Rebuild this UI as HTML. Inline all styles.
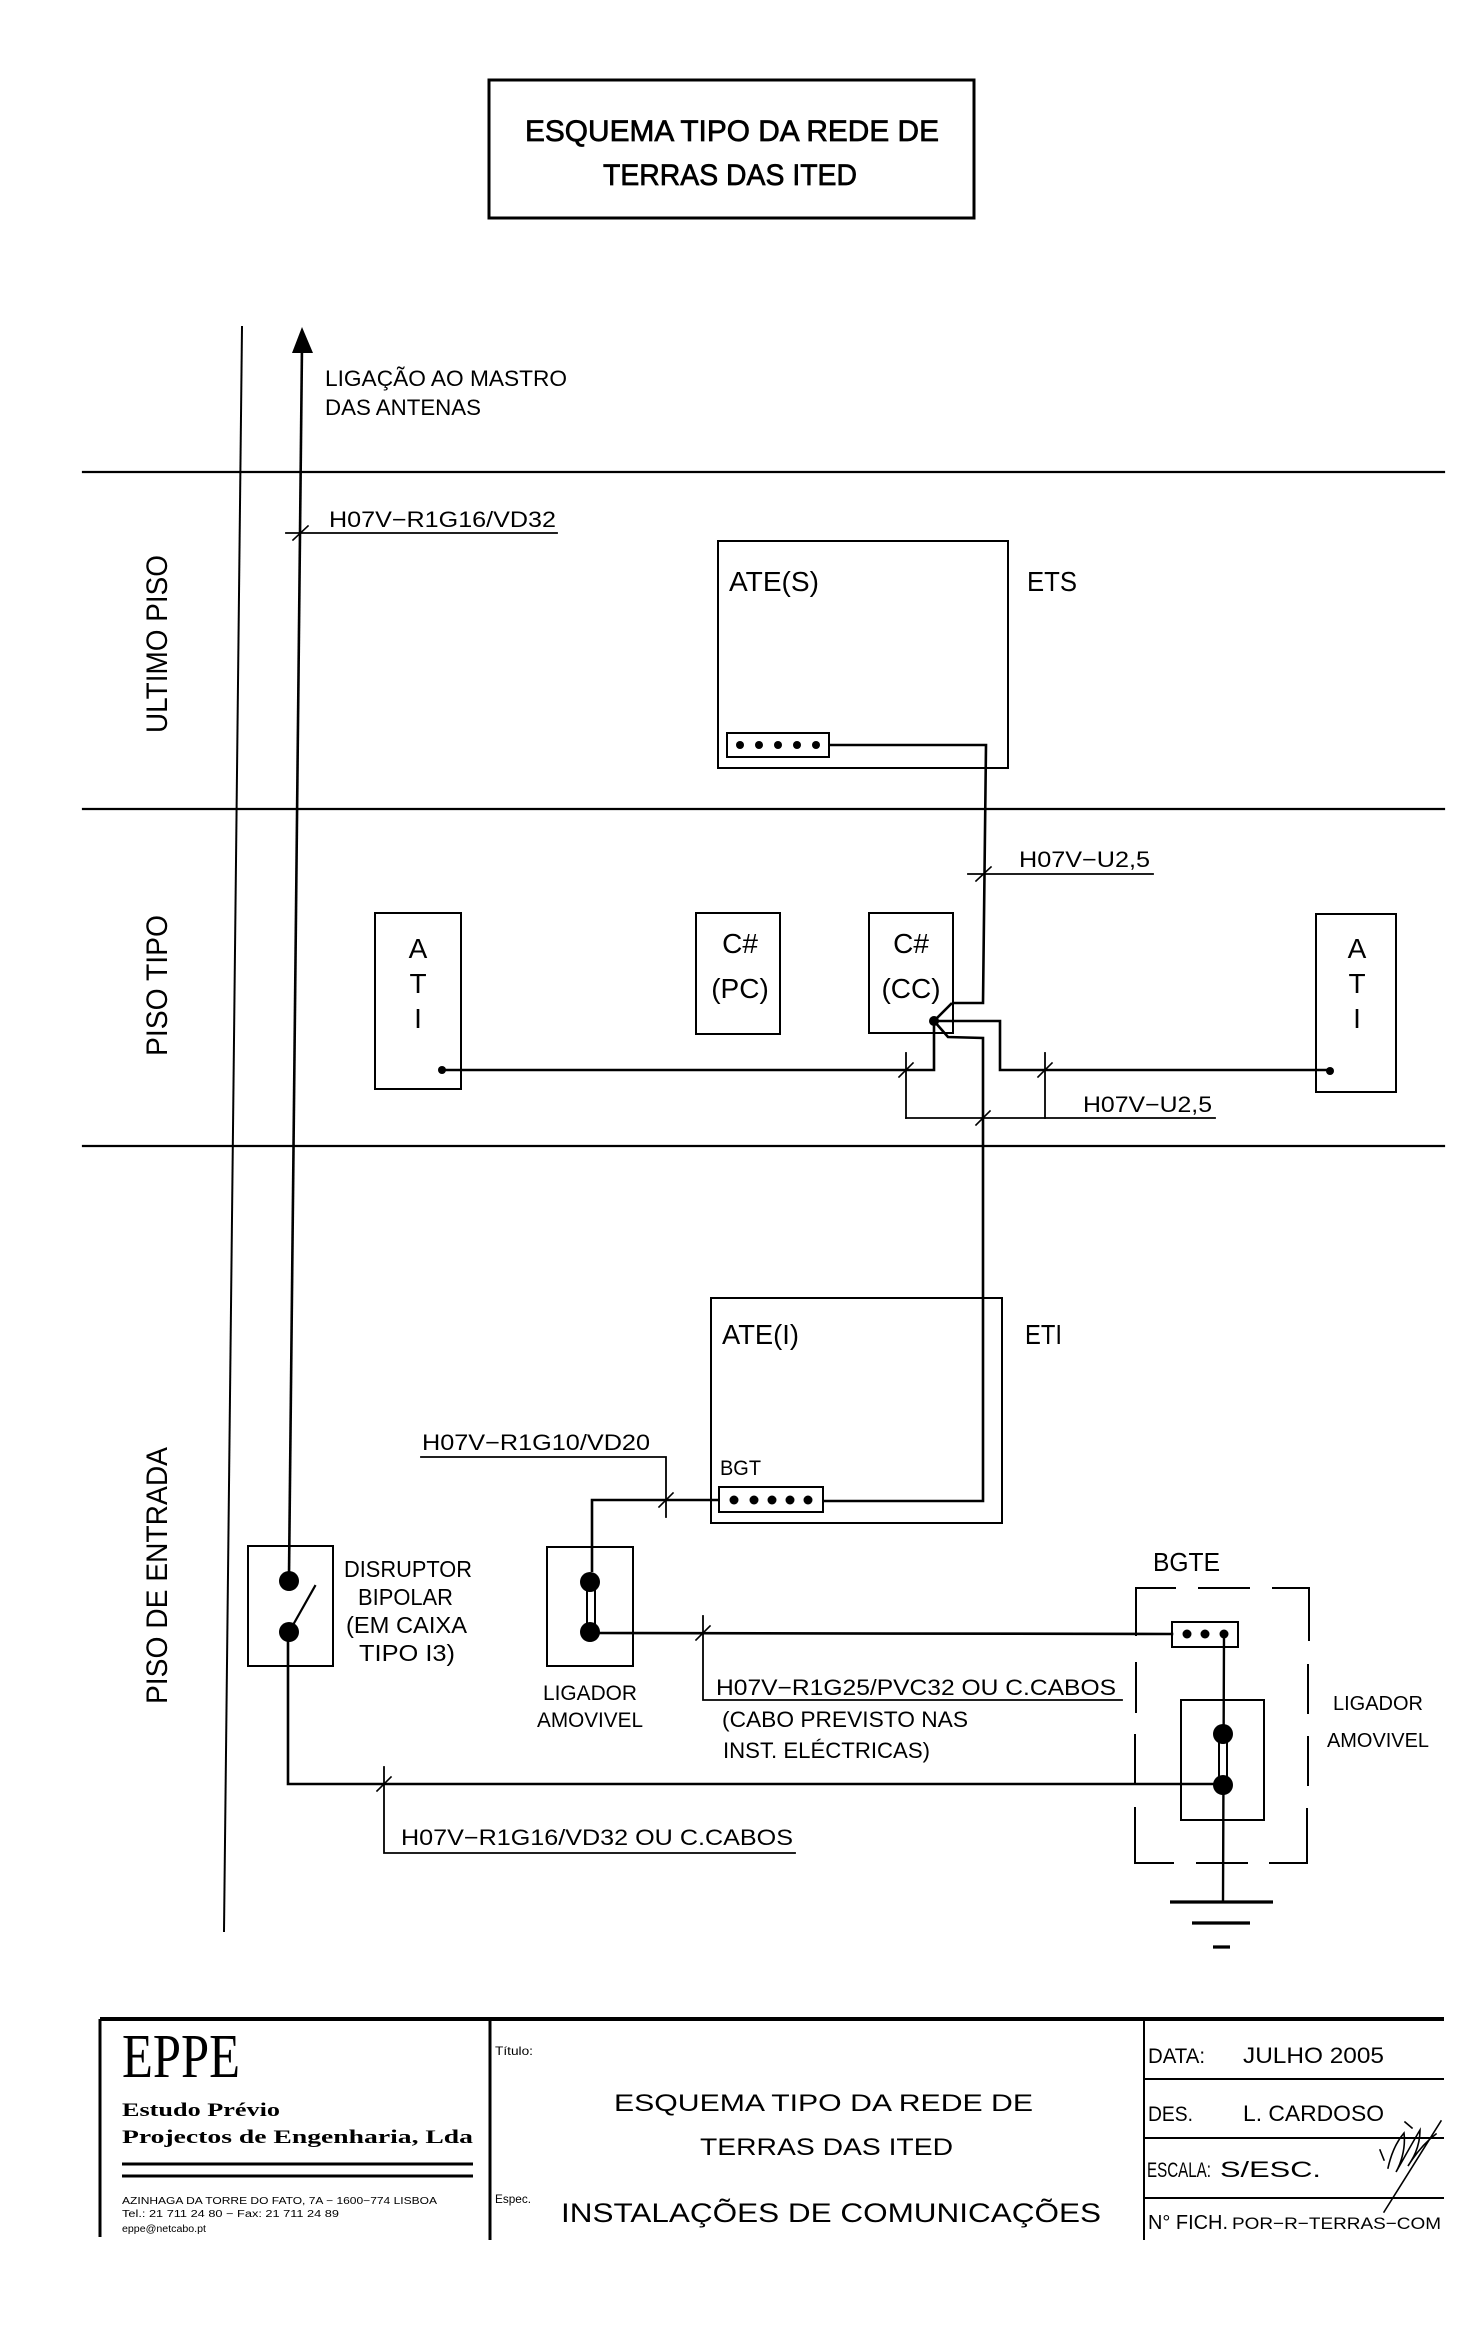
<!DOCTYPE html>
<html><head><meta charset="utf-8"><style>
html,body{margin:0;padding:0;background:#fff;}
svg{display:block;}
text{font-family:"Liberation Sans",Arial,sans-serif;fill:#000;}
.s{font-family:"Liberation Serif","Times New Roman",serif;}
</style></head><body>
<svg width="1482" height="2326" viewBox="0 0 1482 2326" xmlns="http://www.w3.org/2000/svg">
<rect x="0" y="0" width="1482" height="2326" fill="#fff"/>

<!-- Title box -->
<rect x="489" y="80" width="485" height="138" fill="none" stroke="#000" stroke-width="3"/>
<text x="525" y="141" font-size="30" textLength="414" lengthAdjust="spacingAndGlyphs" stroke="#000" stroke-width="0.7">ESQUEMA TIPO DA REDE DE</text>
<text x="603" y="185" font-size="30" textLength="254" lengthAdjust="spacingAndGlyphs" stroke="#000" stroke-width="0.7">TERRAS DAS ITED</text>

<g stroke="#000" fill="none" stroke-linecap="square">
<!-- left vertical reference line -->
<line x1="242" y1="327" x2="224" y2="1931" stroke-width="2"/>
<!-- floor lines -->
<line x1="83" y1="472" x2="1444" y2="472" stroke-width="2.2"/>
<line x1="83" y1="809" x2="1444" y2="809" stroke-width="2.2"/>
<line x1="83" y1="1146" x2="1444" y2="1146" stroke-width="2.2"/>

<!-- main conductor -->
<line x1="302" y1="345" x2="289" y2="1575" stroke-width="2.6"/>
<!-- top label underline/tick -->
<line x1="286" y1="533" x2="557" y2="533" stroke-width="1.8"/>
<line x1="293" y1="540" x2="308" y2="526" stroke-width="1.6"/>

<!-- ATE(S) box -->
<rect x="718" y="541" width="290" height="227" stroke-width="2"/>
<rect x="727" y="733" width="102" height="24" stroke-width="2"/>
<polyline points="829,745 986,745 983,1003 952,1003" stroke-width="2.6" stroke-linecap="butt"/>
<!-- top H07V-U2,5 -->
<line x1="968" y1="874" x2="1153" y2="874" stroke-width="1.8"/>
<line x1="976" y1="881" x2="991" y2="867" stroke-width="1.6"/>

<!-- ATI left -->
<rect x="375" y="913" width="86" height="176" stroke-width="2"/>
<!-- C# PC -->
<rect x="696" y="913" width="84" height="121" stroke-width="2"/>
<!-- C# CC -->
<rect x="869" y="913" width="84" height="120" stroke-width="2"/>
<!-- ATI right -->
<rect x="1316" y="914" width="80" height="178" stroke-width="2"/>

<!-- junction -->
<polyline points="952,1003 934,1021 948,1037 983,1038 983,1501 823,1501" stroke-width="2.6" stroke-linejoin="miter" stroke-linecap="butt"/>
<polyline points="934,1021 1000,1021 1000,1070 1330,1070" stroke-width="2.6" stroke-linecap="butt"/>
<polyline points="934,1021 934,1070 442,1070" stroke-width="2.6" stroke-linecap="butt"/>
<!-- ticks & label lines piso tipo -->
<line x1="906" y1="1053" x2="906" y2="1118" stroke-width="1.8"/>
<line x1="906" y1="1118" x2="1215" y2="1118" stroke-width="1.8"/>
<line x1="1045" y1="1053" x2="1045" y2="1118" stroke-width="1.8"/>
<line x1="899" y1="1077" x2="913" y2="1063" stroke-width="1.6"/>
<line x1="1038" y1="1077" x2="1052" y2="1063" stroke-width="1.6"/>
<line x1="976" y1="1125" x2="990" y2="1111" stroke-width="1.6"/>

<!-- ATE(I) box -->
<rect x="711" y="1298" width="291" height="225" stroke-width="2"/>
<rect x="719" y="1487" width="104" height="25" stroke-width="2"/>
<!-- BGT to ligador -->
<polyline points="719,1500 592,1500 592,1572" stroke-width="2.6" stroke-linecap="butt"/>
<polyline points="421,1457 666,1457 666,1517" stroke-width="1.8"/>
<line x1="659" y1="1507" x2="673" y2="1493" stroke-width="1.6"/>

<!-- disruptor -->
<rect x="248" y="1546" width="85" height="120" stroke-width="2"/>
<line x1="293" y1="1625" x2="315" y2="1586" stroke-width="2.2"/>
<polyline points="288,1640 288,1784 1223,1784" stroke-width="2.6" stroke-linecap="butt"/>
<polyline points="384,1767 384,1853 795,1853" stroke-width="1.8"/>
<line x1="377" y1="1791" x2="391" y2="1777" stroke-width="1.6"/>

<!-- ligador amovivel -->
<rect x="547" y="1547" width="86" height="119" stroke-width="2"/>
<rect x="587" y="1588" width="8" height="38" stroke-width="2" fill="#fff"/>
<line x1="590" y1="1633" x2="1172" y2="1634" stroke-width="2.6"/>
<polyline points="703,1616 703,1700 1122,1700" stroke-width="1.8"/>
<line x1="696" y1="1640" x2="710" y2="1626" stroke-width="1.6"/>

<!-- BGTE -->
<rect x="1172" y="1622" width="66" height="25" stroke-width="2"/>
<line x1="1224" y1="1634" x2="1223" y2="1902" stroke-width="2.4"/>
<rect x="1181" y="1700" width="83" height="120" stroke-width="2"/>
<rect x="1219" y="1740" width="8" height="38" stroke-width="2" fill="#fff"/>
<!-- dashed enclosure -->
<g stroke-width="2">
<line x1="1136" y1="1588" x2="1175" y2="1588"/><line x1="1199" y1="1588" x2="1249" y2="1588"/><line x1="1273" y1="1588" x2="1309" y2="1588"/>
<line x1="1135" y1="1863" x2="1173" y2="1863"/><line x1="1197" y1="1863" x2="1247" y2="1863"/><line x1="1270" y1="1863" x2="1307" y2="1863"/>
<line x1="1136" y1="1588" x2="1136" y2="1635"/><line x1="1136" y1="1663" x2="1136" y2="1712"/><line x1="1135" y1="1735" x2="1135" y2="1783"/><line x1="1135" y1="1808" x2="1135" y2="1863"/>
<line x1="1309" y1="1588" x2="1309" y2="1640"/><line x1="1308" y1="1665" x2="1308" y2="1713"/><line x1="1308" y1="1737" x2="1308" y2="1785"/><line x1="1307" y1="1809" x2="1307" y2="1863"/>
</g>
<!-- ground -->
<line x1="1170" y1="1902" x2="1273" y2="1902" stroke-width="3.2" stroke-linecap="butt"/>
<line x1="1192" y1="1923" x2="1250" y2="1923" stroke-width="3.2" stroke-linecap="butt"/>
<line x1="1213" y1="1947" x2="1230" y2="1947" stroke-width="3.2" stroke-linecap="butt"/>

<!-- title block lines -->
<line x1="100" y1="2019" x2="1444" y2="2019" stroke-width="4" stroke-linecap="butt"/>
<line x1="100" y1="2019" x2="100" y2="2237" stroke-width="3" stroke-linecap="butt"/>
<line x1="490" y1="2019" x2="490" y2="2240" stroke-width="3" stroke-linecap="butt"/>
<line x1="1144" y1="2019" x2="1144" y2="2240" stroke-width="2" stroke-linecap="butt"/>
<line x1="1144" y1="2079" x2="1444" y2="2079" stroke-width="2" stroke-linecap="butt"/>
<line x1="1144" y1="2138" x2="1444" y2="2138" stroke-width="2" stroke-linecap="butt"/>
<line x1="1144" y1="2198" x2="1444" y2="2198" stroke-width="2" stroke-linecap="butt"/>
<line x1="122" y1="2164" x2="473" y2="2164" stroke-width="3" stroke-linecap="butt"/>
<line x1="122" y1="2176" x2="473" y2="2176" stroke-width="3" stroke-linecap="butt"/>
<!-- signature -->
<path d="M1441,2121 L1384,2212 M1388,2168 C1392,2150 1398,2140 1404,2133 C1406,2150 1400,2165 1396,2172 C1404,2158 1414,2140 1420,2130 C1420,2148 1412,2160 1408,2166 C1418,2150 1428,2140 1436,2134 M1380,2150 L1384,2160 M1405,2122 L1412,2128" stroke-width="1.6"/>
</g>

<!-- arrow head -->
<polygon points="302,327 292,353 313,353" fill="#000"/>

<!-- dots -->
<g fill="#000">
<circle cx="740" cy="745" r="4"/><circle cx="759" cy="745" r="4"/><circle cx="778" cy="745" r="4"/><circle cx="797" cy="745" r="4"/><circle cx="816" cy="745" r="4"/>
<circle cx="442" cy="1070" r="4"/>
<circle cx="1330" cy="1071" r="4"/>
<circle cx="934" cy="1021" r="5"/>
<circle cx="734" cy="1500" r="4.5"/><circle cx="754" cy="1500" r="4.5"/><circle cx="772" cy="1500" r="4.5"/><circle cx="790" cy="1500" r="4.5"/><circle cx="808" cy="1500" r="4.5"/>
<circle cx="289" cy="1581" r="10"/><circle cx="289" cy="1632" r="10"/>
<circle cx="590" cy="1582" r="10"/><circle cx="590" cy="1632" r="10"/>
<circle cx="1187" cy="1634" r="4.5"/><circle cx="1205" cy="1634" r="4.5"/><circle cx="1224" cy="1634" r="4.5"/>
<circle cx="1223" cy="1734" r="10"/><circle cx="1223" cy="1785" r="10"/>
</g>

<!-- diagram labels -->
<text x="325" y="386" font-size="22" textLength="242" lengthAdjust="spacingAndGlyphs">LIGAÇÃO  AO  MASTRO</text>
<text x="325" y="415" font-size="22" textLength="156" lengthAdjust="spacingAndGlyphs">DAS  ANTENAS</text>
<text x="329" y="527" font-size="22" textLength="227" lengthAdjust="spacingAndGlyphs">H07V−R1G16/VD32</text>
<text x="729" y="591" font-size="28" textLength="90" lengthAdjust="spacingAndGlyphs">ATE(S)</text>
<text x="1027" y="591" font-size="28" textLength="50" lengthAdjust="spacingAndGlyphs">ETS</text>

<text transform="translate(167,733) rotate(-90)" font-size="30" textLength="178" lengthAdjust="spacingAndGlyphs">ULTIMO  PISO</text>
<text transform="translate(167,1056) rotate(-90)" font-size="30" textLength="141" lengthAdjust="spacingAndGlyphs">PISO  TIPO</text>
<text transform="translate(167,1704) rotate(-90)" font-size="30" textLength="257" lengthAdjust="spacingAndGlyphs">PISO  DE  ENTRADA</text>

<text x="1019" y="867" font-size="22" textLength="131" lengthAdjust="spacingAndGlyphs">H07V−U2,5</text>
<text x="1083" y="1112" font-size="22" textLength="129" lengthAdjust="spacingAndGlyphs">H07V−U2,5</text>

<g font-size="28" text-anchor="middle">
<text x="418" y="958">A</text><text x="418" y="993">T</text><text x="418" y="1028">I</text>
<text x="1357" y="958">A</text><text x="1357" y="993">T</text><text x="1357" y="1028">I</text>
<text x="740" y="953">C#</text><text x="740" y="998">(PC)</text>
<text x="911" y="953">C#</text><text x="911" y="998">(CC)</text>
</g>

<text x="722" y="1344" font-size="28" textLength="77" lengthAdjust="spacingAndGlyphs">ATE(I)</text>
<text x="1025" y="1344" font-size="28" textLength="37" lengthAdjust="spacingAndGlyphs">ETI</text>
<text x="720" y="1475" font-size="21" textLength="41" lengthAdjust="spacingAndGlyphs">BGT</text>
<text x="422" y="1450" font-size="22" textLength="228" lengthAdjust="spacingAndGlyphs">H07V−R1G10/VD20</text>
<text x="1153" y="1571" font-size="26" textLength="67" lengthAdjust="spacingAndGlyphs">BGTE</text>

<text x="344" y="1577" font-size="23" textLength="128" lengthAdjust="spacingAndGlyphs">DISRUPTOR</text>
<text x="358" y="1605" font-size="23" textLength="95" lengthAdjust="spacingAndGlyphs">BIPOLAR</text>
<text x="346" y="1633" font-size="23" textLength="121" lengthAdjust="spacingAndGlyphs">(EM  CAIXA</text>
<text x="359" y="1661" font-size="23" textLength="96" lengthAdjust="spacingAndGlyphs">TIPO  I3)</text>

<text x="543" y="1700" font-size="21" textLength="94" lengthAdjust="spacingAndGlyphs">LIGADOR</text>
<text x="537" y="1727" font-size="21" textLength="106" lengthAdjust="spacingAndGlyphs">AMOVIVEL</text>
<text x="1333" y="1710" font-size="20" textLength="90" lengthAdjust="spacingAndGlyphs">LIGADOR</text>
<text x="1327" y="1747" font-size="20" textLength="102" lengthAdjust="spacingAndGlyphs">AMOVIVEL</text>

<text x="716" y="1695" font-size="22" textLength="400" lengthAdjust="spacingAndGlyphs">H07V−R1G25/PVC32  OU  C.CABOS</text>
<text x="722" y="1727" font-size="22" textLength="246" lengthAdjust="spacingAndGlyphs">(CABO  PREVISTO  NAS</text>
<text x="723" y="1758" font-size="22" textLength="207" lengthAdjust="spacingAndGlyphs">INST.  ELÉCTRICAS)</text>
<text x="401" y="1845" font-size="22" textLength="392" lengthAdjust="spacingAndGlyphs">H07V−R1G16/VD32  OU  C.CABOS</text>

<!-- title block text -->
<text class="s" x="122" y="2077" font-size="62" textLength="118" lengthAdjust="spacingAndGlyphs">EPPE</text>
<text class="s" x="122" y="2116" font-size="19" font-weight="bold" textLength="158" lengthAdjust="spacingAndGlyphs">Estudo  Prévio</text>
<text class="s" x="122" y="2143" font-size="19" font-weight="bold" textLength="351" lengthAdjust="spacingAndGlyphs">Projectos  de  Engenharia,  Lda</text>
<text x="122" y="2204" font-size="10" textLength="315" lengthAdjust="spacingAndGlyphs">AZINHAGA DA TORRE DO FATO, 7A − 1600−774 LISBOA</text>
<text x="122" y="2217" font-size="10" textLength="217" lengthAdjust="spacingAndGlyphs">Tel.: 21 711 24 80 − Fax: 21 711 24 89</text>
<text x="122" y="2232" font-size="10" textLength="84" lengthAdjust="spacingAndGlyphs">eppe@netcabo.pt</text>

<text x="495" y="2055" font-size="12" textLength="38" lengthAdjust="spacingAndGlyphs">Título:</text>
<text x="495" y="2203" font-size="12" textLength="36" lengthAdjust="spacingAndGlyphs">Espec.</text>
<text x="614" y="2111" font-size="24" textLength="419" lengthAdjust="spacingAndGlyphs">ESQUEMA  TIPO  DA  REDE  DE</text>
<text x="700" y="2155" font-size="24" textLength="253" lengthAdjust="spacingAndGlyphs">TERRAS  DAS  ITED</text>
<text x="561" y="2222" font-size="27" textLength="540" lengthAdjust="spacingAndGlyphs">INSTALAÇÕES  DE  COMUNICAÇÕES</text>

<text x="1148" y="2063" font-size="21" textLength="57" lengthAdjust="spacingAndGlyphs">DATA:</text>
<text x="1243" y="2063" font-size="22" textLength="141" lengthAdjust="spacingAndGlyphs">JULHO  2005</text>
<text x="1148" y="2121" font-size="21" textLength="45" lengthAdjust="spacingAndGlyphs">DES.</text>
<text x="1243" y="2121" font-size="22" textLength="141" lengthAdjust="spacingAndGlyphs">L.  CARDOSO</text>
<text x="1147" y="2177" font-size="21" textLength="64" lengthAdjust="spacingAndGlyphs">ESCALA:</text>
<text x="1220" y="2177" font-size="22" textLength="101" lengthAdjust="spacingAndGlyphs">S/ESC.</text>
<text x="1148" y="2229" font-size="20" textLength="80" lengthAdjust="spacingAndGlyphs">N°  FICH.</text>
<text x="1232" y="2229" font-size="17" textLength="209" lengthAdjust="spacingAndGlyphs">POR−R−TERRAS−COM</text>
</svg>
</body></html>
